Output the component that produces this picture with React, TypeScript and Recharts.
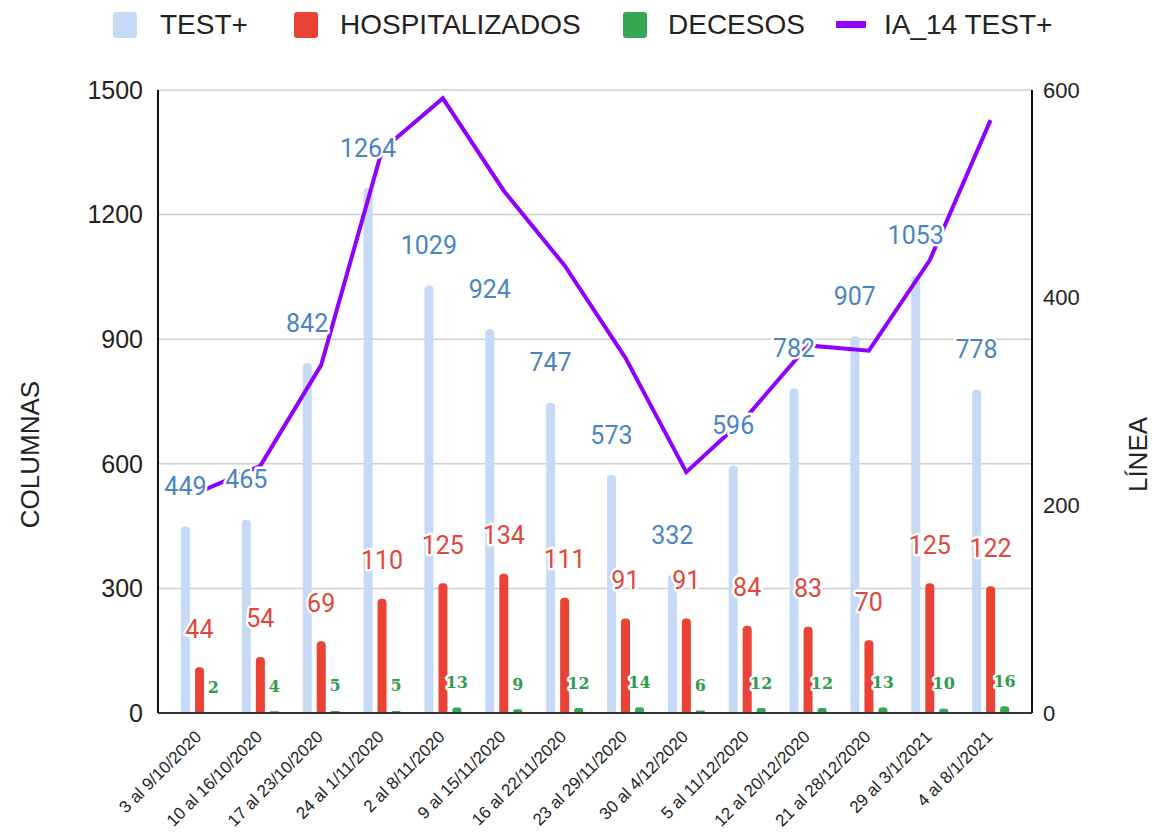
import React from 'react';
import { ComposedChart, Bar, Line, XAxis, YAxis, CartesianGrid, LabelList } from 'recharts';

const categories = [
  '3 al 9/10/2020', '10 al 16/10/2020', '17 al 23/10/2020', '24 al 1/11/2020',
  '2 al 8/11/2020', '9 al 15/11/2020', '16 al 22/11/2020', '23 al 29/11/2020',
  '30 al 4/12/2020', '5 al 11/12/2020', '12 al 20/12/2020', '21 al 28/12/2020',
  '29 al 3/1/2021', '4 al 8/1/2021',
];
const testPositivos = [449, 465, 842, 1264, 1029, 924, 747, 573, 332, 596, 782, 907, 1053, 778];
const hospitalizados = [44, 54, 69, 110, 125, 134, 111, 91, 91, 84, 83, 70, 125, 122];
const decesos = [2, 4, 5, 5, 13, 9, 12, 14, 6, 12, 12, 13, 10, 16];
const ia14 = [213, 238, 335, 542, 592, 503, 431, 342, 232, 286, 354, 349, 436, 571];

const leftTicks = [0, 300, 600, 900, 1200, 1500];
const rightTicks = [0, 200, 400, 600];

const seriesNames = ['TEST+', 'HOSPITALIZADOS', 'DECESOS', 'IA_14 TEST+'];
const leftTitle = 'COLUMNAS';
const rightTitle = 'LÍNEA';

const C_TEST = '#c6d9f5';
const C_HOSP = '#ea4335';
const C_DEC = '#34a853';
const C_LINE = '#8f00ff';
const L_TEST = '#4a84c2';
const L_HOSP = '#e2473b';
const L_DEC = '#2f9d4d';

const data = categories.map((c, i) => ({
  cat: c,
  test: testPositivos[i],
  hosp: hospitalizados[i],
  dec: decesos[i],
  ia: ia14[i],
}));

const SANS = '"Liberation Sans", Arial, sans-serif';

const getXY = (p: any) => {
  const vb = p.viewBox || {};
  const x = p.x !== undefined ? p.x : vb.x;
  const y = p.y !== undefined ? p.y : vb.y;
  return { x: Number(x), y: Number(y) };
};

const makeLabel = (dx: number, dy: number, color: string, font: string, size: number, weight: string | number) =>
  (p: any) => {
    const { x, y } = getXY(p);
    if (!isFinite(x) || !isFinite(y)) return null;
    return (
      <text
        x={x + dx}
        y={y - dy}
        textAnchor="middle"
        dominantBaseline="central"
        fontFamily={font}
        fontSize={size}
        fontWeight={weight}
        fill={color}
        stroke="#ffffff"
        strokeWidth={5}
        strokeLinejoin="round"
        paintOrder="stroke"
      >
        {p.value}
      </text>
    );
  };

const XTick = (props: any) => {
  const { x, payload } = props;
  return (
    <g transform={`translate(${x - 1},${734})`}>
      <text
        transform="rotate(-45)"
        textAnchor="end"
        dominantBaseline="central"
        fontFamily={SANS}
        fontSize={17}
        fill="#222"
      >
        {payload.value}
      </text>
    </g>
  );
};

const axisTitle = (text: string, side: 'left' | 'right') => (p: any) => {
  const vb = p.viewBox || {};
  const cx = side === 'left' ? vb.x + 30 : vb.x + 106;
  const cy = vb.y + vb.height / 2 + 53;
  return (
    <text
      x={cx}
      y={cy}
      transform={`rotate(-90, ${cx}, ${cy})`}
      textAnchor="middle"
      dominantBaseline="central"
      fontFamily={SANS}
      fontSize={26}
      fill="#222"
    >
      {text}
    </text>
  );
};

const Legend = () => {
  const items = [
    { name: seriesNames[0], color: C_TEST, kind: 'box', left: 113, textLeft: 160 },
    { name: seriesNames[1], color: C_HOSP, kind: 'box', left: 294, textLeft: 340 },
    { name: seriesNames[2], color: C_DEC, kind: 'box', left: 623, textLeft: 668 },
    { name: seriesNames[3], color: C_LINE, kind: 'line', left: 836, textLeft: 884 },
  ];
  return (
    <div style={{ position: 'absolute', left: 0, top: 0, width: 1154, height: 50 }}>
      {items.map((it) => (
        <React.Fragment key={it.name}>
          {it.kind === 'box' ? (
            <div style={{ position: 'absolute', left: it.left, top: 12, width: 24, height: 26, borderRadius: 3, background: it.color }} />
          ) : (
            <div style={{ position: 'absolute', left: it.left, top: 21, width: 30, height: 7, borderRadius: 1, background: it.color }} />
          )}
          <span
            style={{
              position: 'absolute',
              left: it.textLeft,
              top: 25,
              transform: 'translateY(-50%)',
              fontFamily: SANS,
              fontSize: 28,
              lineHeight: '32px',
              color: '#222',
              whiteSpace: 'nowrap',
            }}
          >
            {it.name}
          </span>
        </React.Fragment>
      ))}
    </div>
  );
};

export default function App() {
  return (
    <div style={{ position: 'absolute', left: 0, top: 0, width: 1154, height: 839, background: '#fff' }}>
      <Legend />
      <ComposedChart
        width={1154}
        height={839}
        data={data}
        margin={{ top: 90, right: 0, bottom: 0, left: 0 }}
        barSize={9}
        barGap={5}
      >
        <CartesianGrid yAxisId="left" vertical={false} stroke="#cfcfcf" strokeWidth={1.5} />
        <XAxis
          dataKey="cat"
          height={126}
          padding={{ left: 11, right: 11 }}
          interval={0}
          tickLine={false}
          axisLine={{ stroke: '#333', strokeWidth: 2 }}
          tick={<XTick />}
        />
        <YAxis
          yAxisId="left"
          orientation="left"
          width={158}
          domain={[0, 1500]}
          ticks={leftTicks}
          interval={0}
          tickLine={false}
          tickMargin={9}
          axisLine={{ stroke: '#111', strokeWidth: 2 }}
          tick={{ fontSize: 25, fill: '#222', fontFamily: SANS }}
          label={{ content: axisTitle(leftTitle, 'left') }}
        />
        <YAxis
          yAxisId="right"
          orientation="right"
          width={122}
          domain={[0, 600]}
          ticks={rightTicks}
          interval={0}
          tickLine={false}
          tickMargin={5}
          axisLine={{ stroke: '#111', strokeWidth: 2 }}
          tick={{ fontSize: 22, fill: '#222', fontFamily: SANS }}
          label={{ content: axisTitle(rightTitle, 'right') }}
        />
        <Bar yAxisId="left" dataKey="test" name={seriesNames[0]} fill={C_TEST} radius={[4, 4, 0, 0]} isAnimationActive={false} />
        <Bar yAxisId="right" dataKey="hosp" name={seriesNames[1]} fill={C_HOSP} radius={[4, 4, 0, 0]} isAnimationActive={false} />
        <Bar yAxisId="left" dataKey="dec" name={seriesNames[2]} fill={C_DEC} radius={[4, 4, 0, 0]} isAnimationActive={false} />
        <Line yAxisId="right" dataKey="ia" name={seriesNames[3]} stroke={C_LINE} strokeWidth={4} dot={false} activeDot={false} isAnimationActive={false} />
        <Line yAxisId="left" dataKey="test" stroke="none" dot={false} activeDot={false} legendType="none" isAnimationActive={false}>
          <LabelList dataKey="test" content={makeLabel(-14, 40, L_TEST, 'Roboto', 25, 400)} />
        </Line>
        <Line yAxisId="right" dataKey="hosp" stroke="none" dot={false} activeDot={false} legendType="none" isAnimationActive={false}>
          <LabelList dataKey="hosp" content={makeLabel(0, 38, L_HOSP, 'Roboto', 25, 400)} />
        </Line>
        <Line yAxisId="left" dataKey="dec" stroke="none" dot={false} activeDot={false} legendType="none" isAnimationActive={false}>
          <LabelList dataKey="dec" content={makeLabel(14, 25, L_DEC, '"DejaVu Serif", serif', 16, 700)} />
        </Line>
      </ComposedChart>
    </div>
  );
}
